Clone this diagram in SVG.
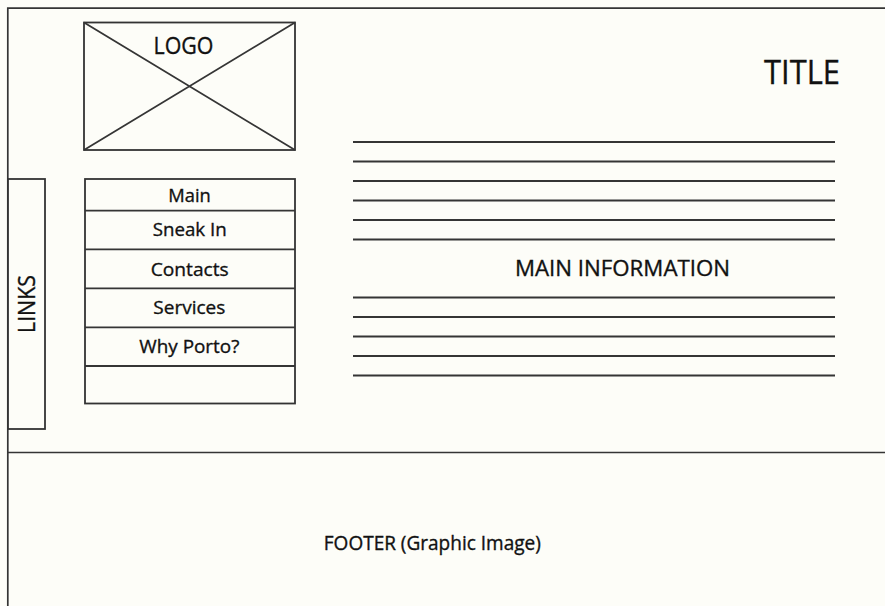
<svg xmlns="http://www.w3.org/2000/svg" width="885" height="606" viewBox="0 0 885 606">
  <style>
    .frame { fill: none; stroke: #353535; stroke-width: 1.7; }
    .box { fill: #fdfdf8; stroke: #333333; stroke-width: 1.8; }
    .rule { stroke: #353535; stroke-width: 1.8; }
    .lbl { font-family: "Open Sans", "Liberation Sans", sans-serif; fill: #111111; stroke: #111111; stroke-width: 0.35; text-anchor: middle; }
  </style>
  <defs>
    <g id="textLines">
      <line x1="353" x2="835" y1="0" y2="0" class="rule"/>
    </g>
  </defs>
  <rect x="0" y="0" width="885" height="606" fill="#fdfdf8"/>

  <!-- page frame: left edge, top edge, footer divider -->
  <g id="page-frame">
    <path class="frame" d="M7.8 606 V8.2 H885"/>
    <line class="frame" x1="7.8" y1="452.5" x2="885" y2="452.5"/>
  </g>

  <!-- logo placeholder -->
  <g id="logo">
    <rect class="box" x="84" y="22.5" width="211" height="127.5"/>
    <path class="rule" fill="none" d="M84 22.5 L295 150 M295 22.5 L84 150"/>
    <text class="lbl" x="183.5" y="54.3" font-size="23" textLength="60" lengthAdjust="spacingAndGlyphs">LOGO</text>
  </g>

  <!-- page title -->
  <g id="title">
    <text class="lbl" x="802" y="84.3" font-size="33" textLength="76" lengthAdjust="spacingAndGlyphs">TITLE</text>
  </g>

  <!-- vertical links tab -->
  <g id="links">
    <rect class="box" x="8" y="179" width="37" height="250"/>
    <text class="lbl" transform="translate(34.6 304) rotate(-90)" x="0" y="0" font-size="23" textLength="58" lengthAdjust="spacingAndGlyphs">LINKS</text>
  </g>

  <!-- navigation menu -->
  <g id="menu">
    <rect class="box" x="85" y="179" width="210" height="224.5"/>
    <path class="rule" fill="none" d="M85 210.7 H295 M85 249.3 H295 M85 288.3 H295 M85 327.3 H295 M85 366 H295"/>
    <text class="lbl" x="189.5" y="202.3" font-size="19" textLength="42.5" lengthAdjust="spacingAndGlyphs">Main</text>
    <text class="lbl" x="189.7" y="235.7" font-size="19" textLength="74" lengthAdjust="spacingAndGlyphs">Sneak In</text>
    <text class="lbl" x="189.7" y="276" font-size="19" textLength="78" lengthAdjust="spacingAndGlyphs">Contacts</text>
    <text class="lbl" x="189.3" y="314.3" font-size="19" textLength="72" lengthAdjust="spacingAndGlyphs">Services</text>
    <text class="lbl" x="189.3" y="353.3" font-size="19" textLength="100" lengthAdjust="spacingAndGlyphs">Why Porto?</text>
  </g>

  <!-- main information block with text placeholder lines -->
  <g id="main-information">
    <use href="#textLines" y="142"/>
    <use href="#textLines" y="161.5"/>
    <use href="#textLines" y="181"/>
    <use href="#textLines" y="200.5"/>
    <use href="#textLines" y="220"/>
    <use href="#textLines" y="239.5"/>
    <text class="lbl" x="622.5" y="276" font-size="22" textLength="215" lengthAdjust="spacingAndGlyphs">MAIN INFORMATION</text>
    <use href="#textLines" y="297.5"/>
    <use href="#textLines" y="317"/>
    <use href="#textLines" y="336.5"/>
    <use href="#textLines" y="356"/>
    <use href="#textLines" y="375.5"/>
  </g>

  <!-- footer -->
  <g id="footer">
    <text class="lbl" x="432.3" y="550.3" font-size="19.5" textLength="217" lengthAdjust="spacingAndGlyphs">FOOTER (Graphic Image)</text>
  </g>
</svg>
